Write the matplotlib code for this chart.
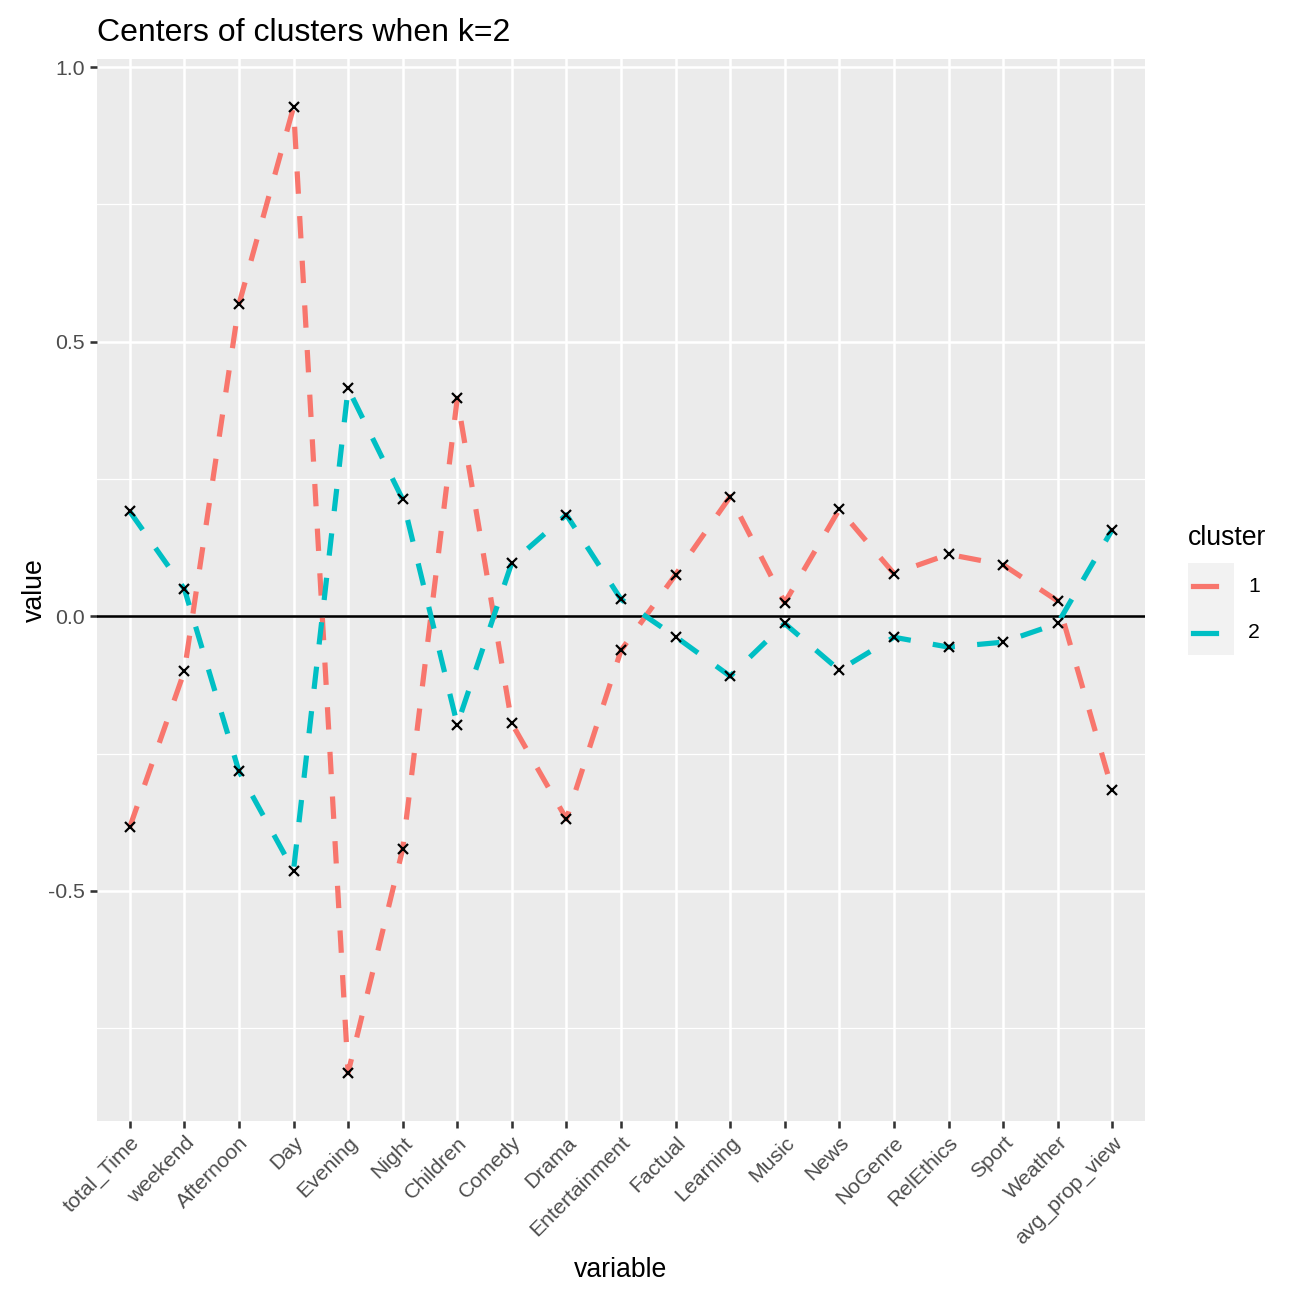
import matplotlib
matplotlib.use("Agg")
import matplotlib.pyplot as plt
from matplotlib.lines import Line2D
from matplotlib.patches import Rectangle
from matplotlib.ticker import MultipleLocator

plt.rcParams['font.family'] = ['Liberation Sans', 'DejaVu Sans']
plt.rcParams['axes.unicode_minus'] = False

variables = ["total_Time", "weekend", "Afternoon", "Day", "Evening", "Night",
             "Children", "Comedy", "Drama", "Entertainment", "Factual", "Learning",
             "Music", "News", "NoGenre", "RelEthics", "Sport", "Weather", "avg_prop_view"]
cluster1 = [-0.384, -0.100, 0.568, 0.927, -0.831, -0.424, 0.397, -0.195, -0.369,
            -0.062, 0.076, 0.218, 0.025, 0.195, 0.078, 0.113, 0.094, 0.028, -0.316]
cluster2 = [0.191, 0.050, -0.282, -0.463, 0.415, 0.213, -0.197, 0.098, 0.185,
            0.031, -0.037, -0.109, -0.013, -0.098, -0.038, -0.056, -0.047, -0.013, 0.158]
cluster_names = ["1", "2"]
colors = ["#F8766D", "#00BFC4"]

S = 1.21
W = H = 1296
fig = plt.figure(figsize=(9, 9), dpi=144)
ax = fig.add_axes([97 / W, 1 - 1121 / H, (1145 - 97) / W, (1121 - 59) / H])
ax.set_facecolor("#EBEBEB")
for s in ax.spines.values():
    s.set_visible(False)

x = list(range(len(variables)))
ymin = min(cluster1 + cluster2)
ymax = max(cluster1 + cluster2)
pad = (ymax - ymin) * 0.05
ax.set_ylim(ymin - pad, ymax + pad)
ax.set_xlim(-0.6, len(variables) - 1 + 0.6)

ax.yaxis.set_major_locator(MultipleLocator(0.5))
ax.yaxis.set_minor_locator(MultipleLocator(0.25))
ax.set_xticks(x)
ax.grid(which="major", color="white", linewidth=1.07 * S)
ax.grid(which="minor", axis="y", color="white", linewidth=0.53 * S)
ax.set_axisbelow(True)

ax.axhline(0, color="black", linewidth=1.07 * S, zorder=2)

for vals, col in zip([cluster1, cluster2], colors):
    ax.plot(x, vals, color=col, linewidth=2.6, linestyle=(0, (4.3, 4.3)),
            dash_capstyle="butt", zorder=3)
for vals in [cluster1, cluster2]:
    ax.plot(x, vals, linestyle="none", marker="x", color="black",
            markersize=5, markeredgewidth=1.1, zorder=4)

ax.tick_params(axis="both", which="major", length=2.75 * S, width=1.07 * S,
               color="#333333", labelsize=8.8 * S, labelcolor="#4D4D4D", pad=2.2 * S)
ax.tick_params(axis="y", which="minor", length=0)
ax.set_xticklabels(variables, rotation=45, ha="right", va="top",
                   rotation_mode="anchor")

ax.set_xlabel("variable", fontsize=11 * S, color="black", labelpad=4.5)
ax.set_ylabel("value", fontsize=11 * S, color="black", labelpad=0)
ax.set_title("Centers of clusters when k=2", fontsize=13.2 * S, color="black",
             loc="left", pad=9)

# legend
fig.text(1188 / W, 1 - 538 / H, "cluster", fontsize=11 * S, ha="left", va="center")
fig.patches.append(Rectangle((1188 / W, 1 - 655 / H), 46 / W, 92 / H,
                             transform=fig.transFigure, facecolor="#F2F2F2",
                             edgecolor="none"))
for i, (name, col) in enumerate(zip(cluster_names, colors)):
    yk = 586 + i * 46.5
    fig.lines.append(Line2D([1193 / W, 1216 / W], [1 - yk / H, 1 - yk / H],
                            transform=fig.transFigure, color=col, linewidth=2.6))
    fig.text(1248 / W, 1 - yk / H, name, fontsize=8.8 * S, ha="left", va="center")

fig.savefig("out.png", dpi=144, facecolor="white")
